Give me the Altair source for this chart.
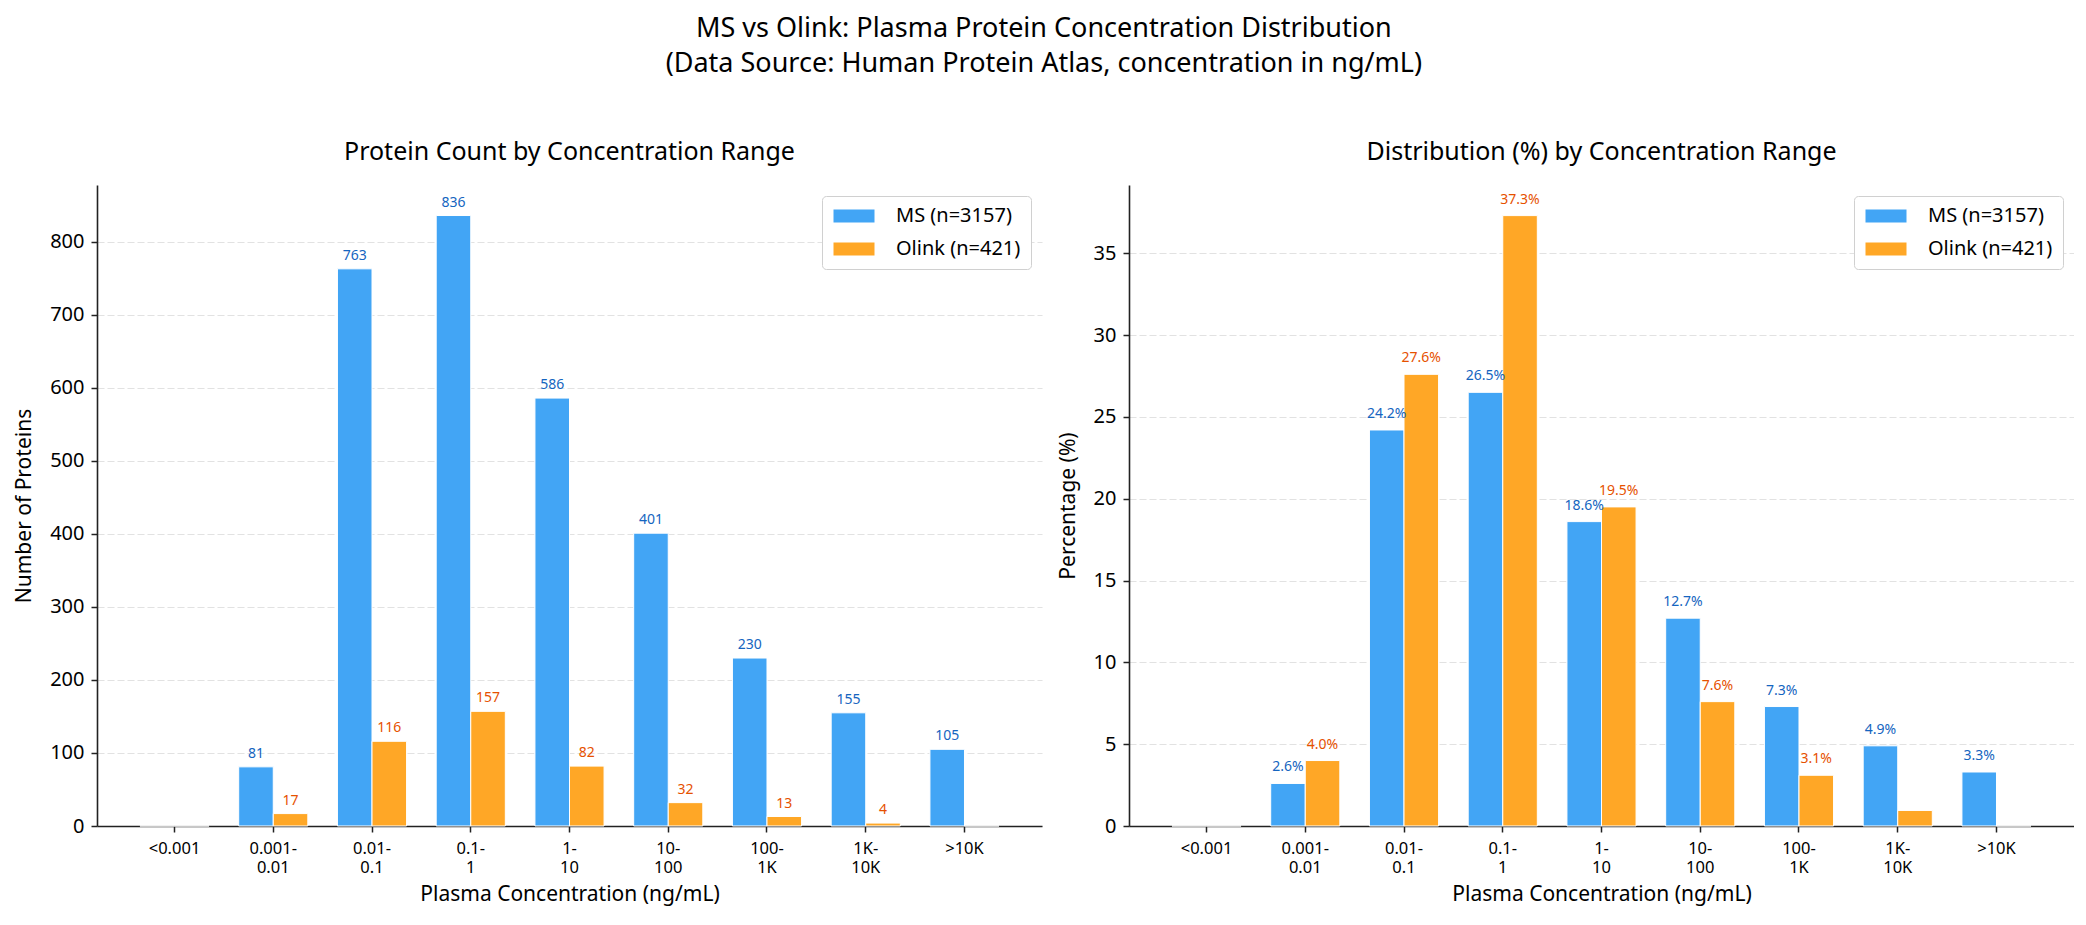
import altair as alt
import pandas as pd

categories = ["<0.001", "0.001-0.01", "0.01-0.1", "0.1-1", "1-10",
              "10-100", "100-1K", "1K-10K", ">10K"]
series = ["MS (n=3157)", "Olink (n=421)"]
ms_counts = [0, 81, 763, 836, 586, 401, 230, 155, 105]
olink_counts = [0, 17, 116, 157, 82, 32, 13, 4, 0]
ms_pct = [0.0, 2.6, 24.2, 26.5, 18.6, 12.7, 7.3, 4.9, 3.3]
olink_pct = [0.0, 4.0, 27.6, 37.3, 19.5, 7.6, 3.1, 0.95, 0.0]
bar_colors = ["#42A5F5", "#FFA726"]
label_colors = ["#1565C0", "#E65100"]
count_ticks = [0, 100, 200, 300, 400, 500, 600, 700, 800]
pct_ticks = [0, 5, 10, 15, 20, 25, 30, 35]

FONT = "Noto Sans"


def make_df(a, b):
    rows = []
    for i, c in enumerate(categories):
        rows.append({"category": c, "series": series[0], "value": a[i], "lc": label_colors[0]})
        rows.append({"category": c, "series": series[1], "value": b[i], "lc": label_colors[1]})
    return pd.DataFrame(rows)


label_expr = ("indexof(datum.label, '-') > 0 ? "
              "[substring(datum.label, 0, indexof(datum.label, '-') + 1), "
              "substring(datum.label, indexof(datum.label, '-') + 1, length(datum.label))] "
              ": datum.label")


def panel(df, title, ytitle, ymax, yticks, text_expr, min_label, dy):
    x = alt.X("category:N", sort=categories,
              scale=alt.Scale(paddingInner=0.3, paddingOuter=0.435),
              axis=alt.Axis(title="Plasma Concentration (ng/mL)", labelExpr=label_expr,
                            labelAngle=0, labelFontSize=16.5, labelLineHeight=19,
                            labelPadding=8, titlePadding=8, grid=False))
    xo = alt.XOffset("series:N", sort=series,
                     scale=alt.Scale(paddingInner=0, paddingOuter=0))
    y = alt.Y("value:Q", scale=alt.Scale(domain=[0, ymax], nice=False),
              axis=alt.Axis(title=ytitle, values=yticks, grid=True,
                            gridDash=[7, 3], gridColor="#e2e2e2", gridWidth=1.2,
                            labelFontSize=20, labelPadding=7, titlePadding=15))
    bars = alt.Chart(df).mark_bar(stroke="white", strokeWidth=1).encode(
        x=x, xOffset=xo, y=y,
        color=alt.Color("series:N", sort=series,
                        scale=alt.Scale(domain=series, range=bar_colors),
                        legend=alt.Legend(title=None, orient="top-right", offset=11,
                                          fillColor="white", strokeColor="#d0d0d0",
                                          cornerRadius=4, padding=10, labelFontSize=20,
                                          labelFont=FONT,
                                          symbolType="M-3.154,-1H3.154V1H-3.154Z",
                                          symbolSize=169, symbolStrokeWidth=0,
                                          symbolOffset=12,
                                          labelOffset=32, rowPadding=13)),
    )
    texts = alt.Chart(df).transform_filter(
        f"datum.value > {min_label}"
    ).transform_calculate(
        txt=text_expr
    ).mark_text(fontSize=14, font=FONT, baseline="alphabetic", dy=dy).encode(
        x=x, xOffset=xo, y=y,
        text="txt:N",
        color=alt.Color("lc:N", scale=None),
    )
    return alt.layer(bars, texts).properties(
        width=945, height=641,
        title=alt.TitleParams(title, fontSize=25, fontWeight="normal", font=FONT, offset=20),
    )


left = panel(make_df(ms_counts, olink_counts), "Protein Count by Concentration Range",
             "Number of Proteins", 877.8, count_ticks,
             "format(datum.value, 'd')", 0, -9)
right = panel(make_df(ms_pct, olink_pct), "Distribution (%) by Concentration Range",
              "Percentage (%)", 39.17, pct_ticks,
              "format(datum.value, '.1f') + '%'", 1, -12)

chart = alt.hconcat(left, right, spacing=15).resolve_scale(
    color="independent", x="independent", y="independent", xOffset="independent"
).resolve_legend(color="independent").properties(
    title=alt.TitleParams(
        ["MS vs Olink: Plasma Protein Concentration Distribution",
         "(Data Source: Human Protein Atlas, concentration in ng/mL)"],
        fontSize=27, fontWeight="normal", font=FONT, lineHeight=35,
        anchor="middle", offset=62, color="black"),
    padding={"left": 5, "top": 7, "right": 0, "bottom": 5},
).configure_view(stroke=None).configure_axis(
    labelFont=FONT, titleFont=FONT, titleFontSize=21, titleFontWeight="normal",
    labelColor="black", titleColor="black",
    domainColor="#222222", domainWidth=1.6, tickColor="#222222", tickWidth=1.5, tickSize=6,
).configure_legend(labelColor="black")

chart.save("out.html", embed_options={"renderer": "svg", "actions": False})
